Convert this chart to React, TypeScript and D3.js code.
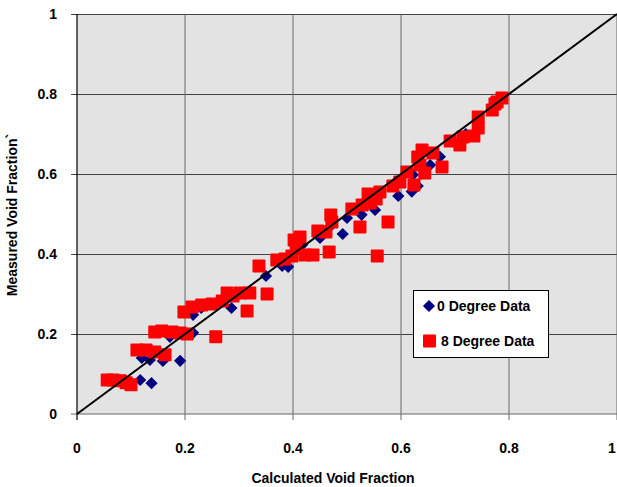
import React from "react";
import * as d3 from "d3";

const W = 617;
const H = 487;

// 0 degree data (calculated, measured)
const deg0Calc = [0.117, 0.138, 0.12, 0.135, 0.159, 0.191, 0.172, 0.215, 0.215, 0.23, 0.286, 0.35, 0.38, 0.391, 0.417, 0.45, 0.47, 0.492, 0.5, 0.527, 0.552, 0.595, 0.62, 0.631, 0.622, 0.654, 0.672, 0.72, 0.77];
const deg0Meas = [0.085, 0.077, 0.14, 0.135, 0.1325, 0.133, 0.193, 0.203, 0.248, 0.265, 0.265, 0.345, 0.37, 0.368, 0.423, 0.44, 0.47, 0.45, 0.49, 0.498, 0.51, 0.545, 0.556, 0.57, 0.598, 0.6225, 0.643, 0.7, 0.77];

// 8 degree data (calculated, measured)
const deg8Calc = [
  0.056, 0.067, 0.08, 0.091, 0.1,
  0.111, 0.128, 0.144, 0.163,
  0.144, 0.157, 0.176, 0.191, 0.204, 0.257,
  0.198, 0.213, 0.231, 0.25, 0.269, 0.278, 0.289, 0.302, 0.32, 0.352, 0.315,
  0.337, 0.37, 0.385, 0.398, 0.422, 0.437, 0.467, 0.556,
  0.402, 0.406, 0.413, 0.446, 0.461, 0.47, 0.472,
  0.524, 0.576, 0.509, 0.528, 0.543, 0.539, 0.561, 0.554,
  0.585, 0.598, 0.611, 0.624, 0.631, 0.639, 0.635, 0.644, 0.676, 0.659,
  0.691, 0.709, 0.715, 0.735, 0.743, 0.743, 0.769, 0.774, 0.787, 0.778,
];
const deg8Meas = [
  0.085, 0.085, 0.083, 0.078, 0.073,
  0.16, 0.16, 0.155, 0.148,
  0.205, 0.2075, 0.205, 0.2025, 0.2, 0.193,
  0.255, 0.2675, 0.2725, 0.275, 0.2825, 0.3025, 0.295, 0.3025, 0.3025, 0.3, 0.2575,
  0.37, 0.385, 0.3875, 0.395, 0.3975, 0.3975, 0.405, 0.395,
  0.435, 0.415, 0.4425, 0.4575, 0.455, 0.4975, 0.48,
  0.4675, 0.48, 0.5125, 0.5225, 0.5275, 0.55, 0.555, 0.5375,
  0.57, 0.58, 0.605, 0.5725, 0.6425, 0.66, 0.6225, 0.6025, 0.6175, 0.6525,
  0.6825, 0.6725, 0.6925, 0.695, 0.7425, 0.715, 0.76, 0.775, 0.79, 0.78,
];

const ticks = [0, 0.2, 0.4, 0.6, 0.8, 1];
const tickLabels = ["0", "0.2", "0.4", "0.6", "0.8", "1"];
const seriesNames = ["0 Degree Data", "8 Degree Data"];

const font = "'Liberation Sans', Arial, sans-serif";
const fs = 14;

const App = () => {
  const x = d3.scaleLinear().domain([0, 1]).range([77, 617]);
  const y = d3.scaleLinear().domain([0, 1]).range([414, 14]);

  const diamond = d3.symbol().type(d3.symbolDiamond2).size(95)();
  const line = d3.line<number>().x((d) => x(d)).y((d) => y(d));

  return (
    <svg width={W} height={H} style={{ position: "absolute", left: 0, top: 0, background: "#fff" }}>
      <rect x={x(0)} y={y(1)} width={x(1) - x(0)} height={y(0) - y(1)} fill="#e3e3e3" />
      {ticks.slice(1).map((t) => (
        <line key={"h" + t} x1={x(0) - 6} x2={x(1)} y1={y(t) + 0.5} y2={y(t) + 0.5} stroke="#444" strokeWidth={1} />
      ))}
      {ticks.slice(1).map((t) => (
        <line key={"v" + t} x1={x(t)} x2={x(t)} y1={y(1)} y2={y(0) + 6} stroke="#666" strokeWidth={1} />
      ))}
      <line x1={x(0) - 6} x2={x(1)} y1={y(0)} y2={y(0)} stroke="#666" strokeWidth={1} />
      <line x1={x(0)} x2={x(0)} y1={y(1)} y2={y(0) + 6} stroke="#000" strokeWidth={1.2} />

      {deg0Calc.map((c, i) => (
        <path key={"b" + i} d={diamond} transform={`translate(${x(c)},${y(deg0Meas[i])})`} fill="#000080" />
      ))}
      {deg8Calc.map((c, i) => (
        <rect key={"r" + i} x={x(c) - 6.5} y={y(deg8Meas[i]) - 6.5} width={13} height={13} rx={1} fill="#ff0000" />
      ))}
      <path d={line([0, 1]) || ""} stroke="#000" strokeWidth={2} fill="none" />

      {ticks.map((t, i) => (
        <text key={"yl" + i} x={57} y={y(t)} dy="0.35em" textAnchor="end" fontFamily={font} fontWeight="bold" fontSize={fs}>
          {tickLabels[i]}
        </text>
      ))}
      {ticks.map((t, i) => (
        <text key={"xl" + i} x={Math.min(x(t), 612)} y={448} dy="0.35em" textAnchor="middle" fontFamily={font} fontWeight="bold" fontSize={fs}>
          {tickLabels[i]}
        </text>
      ))}
      <text x={333} y={478} dy="0.35em" textAnchor="middle" fontFamily={font} fontWeight="bold" fontSize={fs}>
        Calculated Void Fraction
      </text>
      <text transform="translate(12,215) rotate(-90)" dy="0.35em" textAnchor="middle" fontFamily={font} fontWeight="bold" fontSize={fs}>
        Measured Void Fraction`
      </text>

      <rect x={413.5} y={290.5} width={135} height={67} fill="#fff" stroke="#000" strokeWidth={1} />
      <path d={diamond} transform="translate(429,306)" fill="#000080" />
      <text x={437} y={306} dy="0.35em" fontFamily={font} fontWeight="bold" fontSize={fs}>
        {seriesNames[0]}
      </text>
      <rect x={423} y={334.5} width={13} height={13} rx={1} fill="#ff0000" />
      <text x={441} y={341} dy="0.35em" fontFamily={font} fontWeight="bold" fontSize={fs}>
        {seriesNames[1]}
      </text>
    </svg>
  );
};

export default App;
